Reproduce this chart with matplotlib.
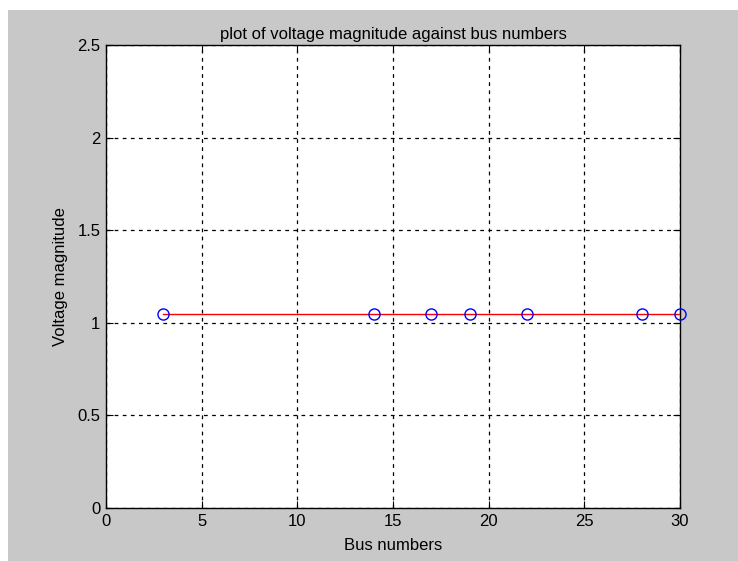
import matplotlib
matplotlib.use("Agg")
import matplotlib.pyplot as plt
from matplotlib.patches import Rectangle
from matplotlib import font_manager

# bus data
bus_numbers = [3, 14, 17, 19, 22, 28, 30]
voltage_mag = [1.05, 1.05, 1.05, 1.05, 1.05, 1.05, 1.05]

x_ticks = [0, 5, 10, 15, 20, 25, 30]
y_ticks = [0, 0.5, 1, 1.5, 2, 2.5]

names = {f.name for f in font_manager.fontManager.ttflist}
fam = "Liberation Sans Narrow" if "Liberation Sans Narrow" in names else "Liberation Sans"
plt.rcParams['font.family'] = [fam, 'DejaVu Sans']
plt.rcParams['font.size'] = 12

fig = plt.figure(figsize=(7.38, 5.61), dpi=100, facecolor='white')
# grey matlab figure background
fig.patches.append(Rectangle((8 / 738, 0), 730 / 738, 551 / 561,
                             transform=fig.transFigure, facecolor='#c8c8c8',
                             edgecolor='none', zorder=-10))

ax = fig.add_axes([106 / 738, 53 / 561, 574 / 738, 463 / 561])
ax.set_facecolor('white')

ax.plot(bus_numbers, voltage_mag, color='red', lw=1.0, zorder=3)
ax.plot(bus_numbers, voltage_mag, 'o', mfc='none', mec='blue', ms=8, mew=1.0,
        zorder=4, clip_on=False)

ax.set_xlim(0, 30)
ax.set_ylim(0, 2.5)
ax.set_xticks(x_ticks)
ax.set_yticks(y_ticks)
ax.set_xticklabels([str(v) for v in x_ticks])
ax.set_yticklabels(['0', '0.5', '1', '1.5', '2', '2.5'])
ax.tick_params(direction='in', top=True, right=True, length=5, width=0.8,
               colors='black', labelsize=12, pad=4)

ax.grid(True, color='black', linestyle=(0, (3, 3.5)), linewidth=0.9)
ax.set_axisbelow(True)
for s in ax.spines.values():
    s.set_linewidth(1.0)
    s.set_color('black')

ax.set_title('plot of voltage magnitude against bus numbers', fontsize=12, pad=4)
ax.set_xlabel('Bus numbers', fontsize=12, labelpad=7)
ax.set_ylabel('Voltage magnitude', fontsize=12, labelpad=7)

fig.savefig('out.png', dpi=100, facecolor=fig.get_facecolor())
